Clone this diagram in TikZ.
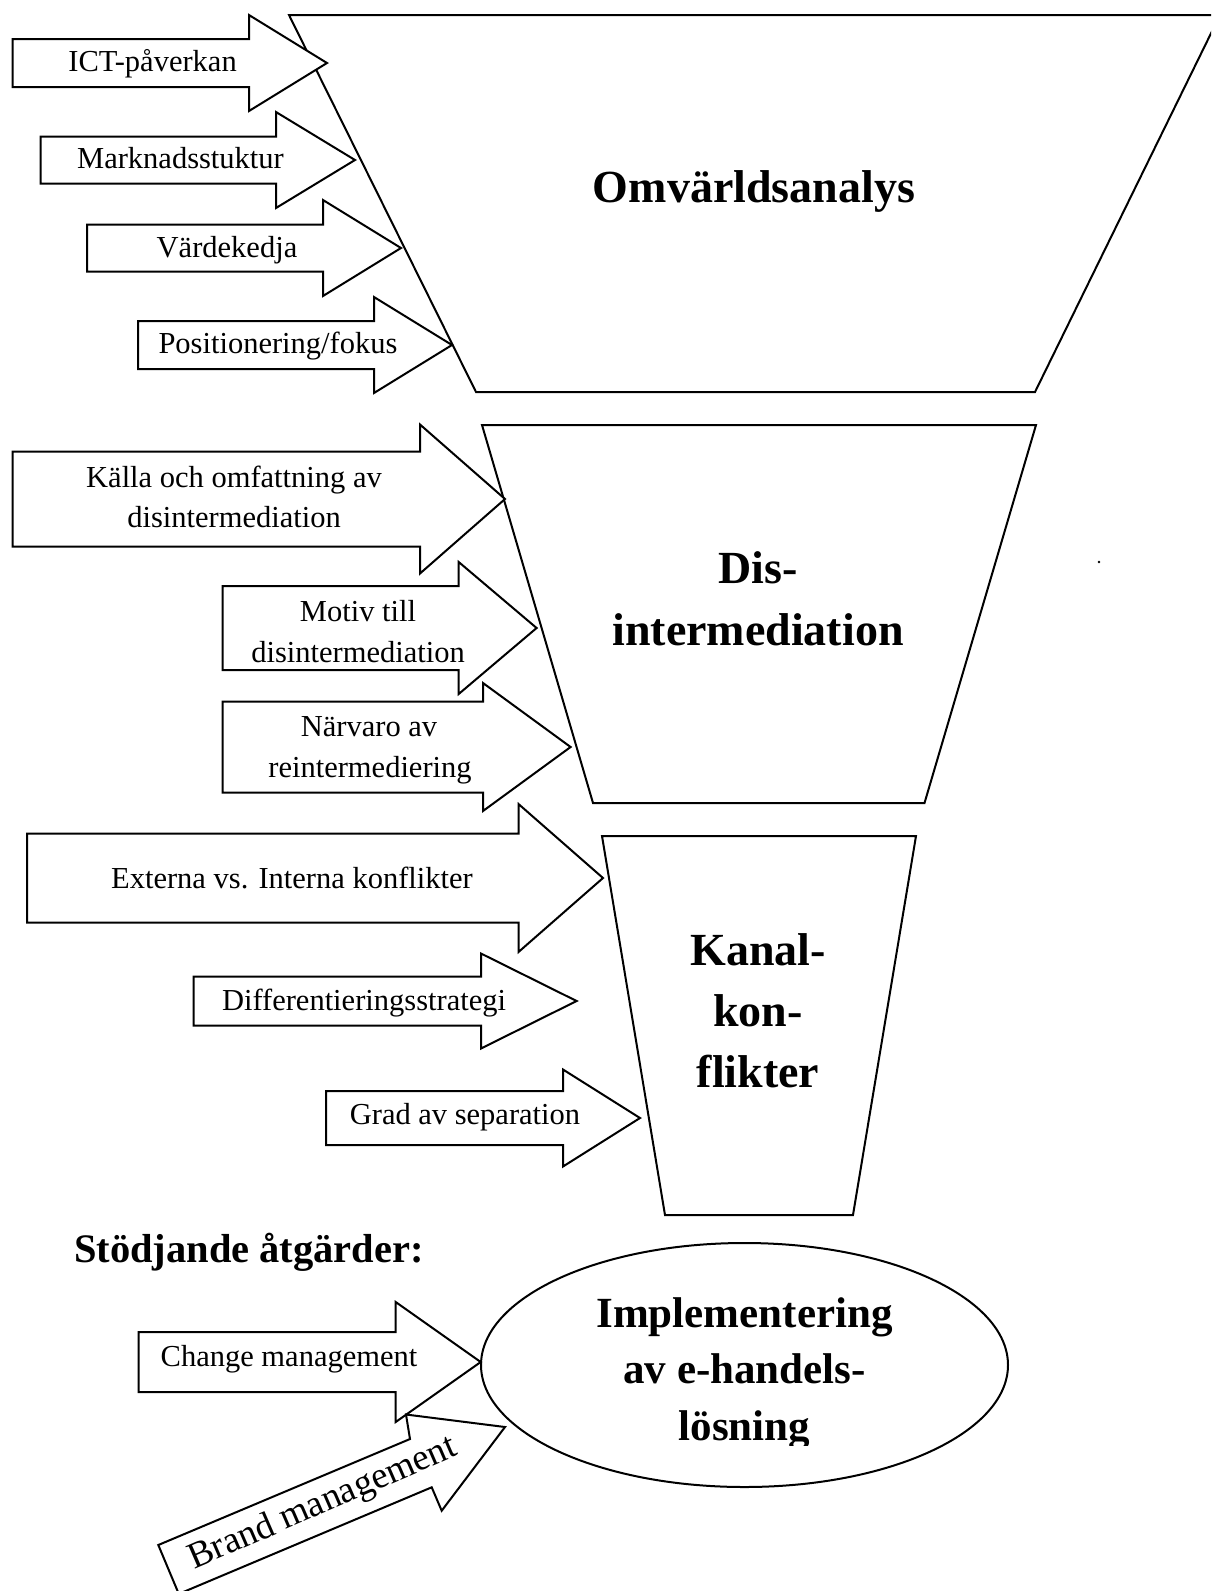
\documentclass[tikz,border=0pt]{standalone}
\usepackage{fontspec}
\setmainfont{Liberation Serif}
% block arrow pointing right: x-left, x-head-base, x-tip, y-centre, half shaft, half head
\newcommand\blockarr[6]{%
  \draw[blockarrow] (#1,{#4-#5}) -- (#2,{#4-#5}) -- (#2,{#4-#6}) -- (#3,#4)
    -- (#2,{#4+#6}) -- (#2,{#4+#5}) -- (#1,{#4+#5}) -- cycle;}
\begin{document}
\begin{tikzpicture}[x=1pt,y=-1pt,
  outline/.style={draw=black,line width=2pt,line join=miter},
  blockarrow/.style={outline,fill=white},
  lbl/.style={font=\fontsize{30.5}{40}\selectfont,anchor=base,inner sep=0pt},
  ttl/.style={font=\fontsize{46}{62}\selectfont\bfseries,anchor=base,inner sep=0pt},
  ttlb/.style={font=\fontsize{43}{56}\selectfont\bfseries,anchor=base,inner sep=0pt}]
\useasboundingbox (0,0) rectangle (1211,1591);
\clip (0,0) rectangle (1211,1591);

% funnel stages
\draw[outline] (289,15) -- (1220,15) -- (1035,392) -- (476,392) -- cycle;
\draw[outline] (482,425) -- (1036,425) -- (924.5,803) -- (593,803) -- cycle;
\draw[outline] (602,836) -- (916,836) -- (853,1215) -- (665,1215) -- cycle;
\draw[outline] (744.5,1365) ellipse [x radius=263.5, y radius=122];
\fill (1099,562) circle (1.3);

\node[ttl] (omv) at (754,202) {Omvärldsanalys};
\node[ttl] (dis1) at (758,583) {Dis-};
\node[ttl] (dis2) at (758,645) {intermediation};
\node[ttl] (kan1) at (758,965) {Kanal-};
\node[ttl] (kan2) at (758,1026) {kon-};
\node[ttl] (kan3) at (758,1087) {flikter};

\node[ttlb] (imp1) at (744.5,1327) {Implementering};
\node[ttlb] (imp2) at (744.5,1383) {av e-handels-};
\begin{scope}
  \clip (480,1400) rectangle (1010,1445);
  \node[ttlb] (imp3) at (744.5,1440) {lösning};
\end{scope}
\node[font=\fontsize{40.5}{50}\selectfont\bfseries,anchor=base,inner sep=0pt] (stod) at (249,1262) {Stödjande åtgärder:};

% incoming factors
\blockarr{12.7}{249}{327}{63}{24}{48}
\blockarr{40.7}{276}{355}{160}{23.5}{48}
\blockarr{87}{323}{401}{248}{23.5}{48}
\blockarr{138}{374}{452}{345}{24}{48}
\blockarr{12.7}{420}{505}{499}{47.5}{74.5}
\blockarr{222.6}{458.7}{536.6}{628}{42}{66}
\blockarr{222.6}{483}{570.6}{747}{45.5}{64}
\blockarr{27}{518.5}{603}{878}{44.5}{74}
\blockarr{193.6}{481}{576.6}{1001}{24.5}{47.5}
\blockarr{326}{563}{640}{1118}{27}{48.5}
\blockarr{138.6}{395.7}{480.7}{1362}{30}{60}
\draw[blockarrow] (505,1427) -- (406,1414.5) -- (410,1439) -- (158.3,1545)
  -- (178.8,1593.9) -- (431.7,1487.3) -- (441.7,1510.7) -- cycle;

\node[lbl] (ict) at (152.6,71) {ICT-påverkan};
\node[lbl] (mark) at (180.5,168) {Marknadsstuktur};
\node[lbl] (varde) at (227,257) {Värdekedja};
\node[lbl] (pos) at (278,353) {Positionering/fokus};
\node[lbl] (kalla1) at (234,487) {Källa och omfattning av};
\node[lbl] (kalla2) at (234,527) {disintermediation};
\node[lbl] (motiv1) at (358,621) {Motiv till};
\node[lbl] (motiv2) at (358,662) {disintermediation};
\node[lbl] (narv1) at (369,736) {Närvaro av};
\node[lbl] (narv2) at (370,777) {reintermediering};
\node[lbl] (ext) at (292,888) {Externa vs. Interna konflikter};
\node[lbl] (diff) at (364,1010) {Differentieringsstrategi};
\node[lbl] (grad) at (465,1124) {Grad av separation};
\node[lbl] (change) at (289,1366) {Change management};
\node[lbl,font=\fontsize{37}{44}\selectfont,anchor=center,rotate=23.5] (brand) at (323,1504) {Brand management};
\end{tikzpicture}
\end{document}
